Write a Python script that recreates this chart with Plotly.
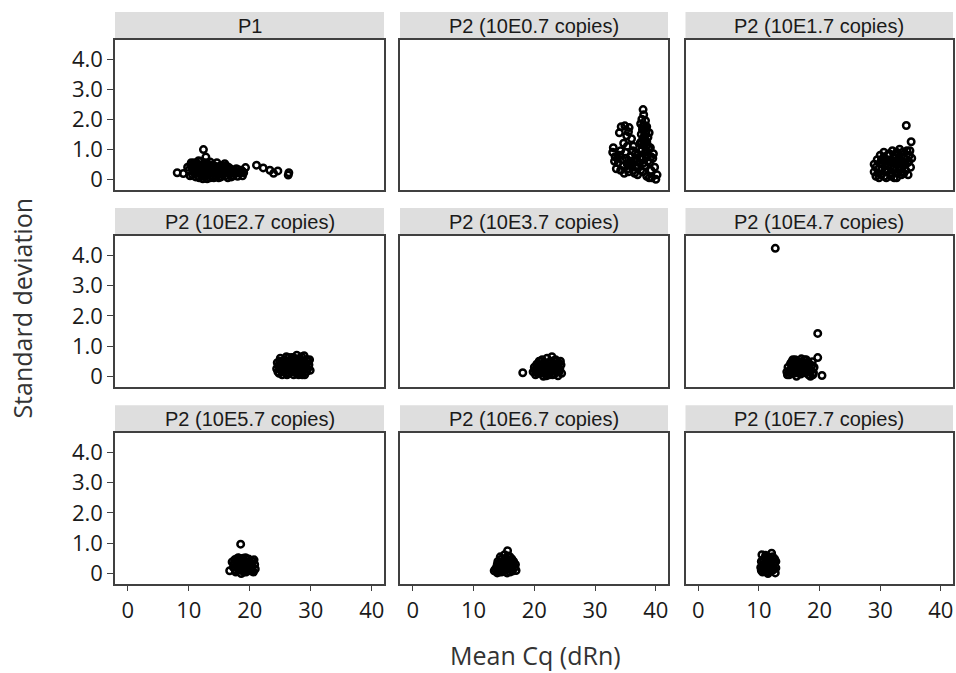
import plotly.graph_objects as go

# Facet titles, in panel order (left to right, top to bottom)
panel_titles = [
    "P1", "P2 (10E0.7 copies)", "P2 (10E1.7 copies)",
    "P2 (10E2.7 copies)", "P2 (10E3.7 copies)", "P2 (10E4.7 copies)",
    "P2 (10E5.7 copies)", "P2 (10E6.7 copies)", "P2 (10E7.7 copies)",
]

x_ticks = [0, 10, 20, 30, 40]
y_ticks = [0, 1, 2, 3, 4]
y_tick_text = ["0", "1.0", "2.0", "3.0", "4.0"]

# (mean Cq, standard deviation) per well, one list per panel
pts_p1 = [
    (8.1, 0.22), (9.1, 0.19), (12.4, 0.99), (12.8, 0.74), (19.3, 0.39), (19.0, 0.22),
    (21.1, 0.47), (22.2, 0.38), (23.3, 0.30), (23.9, 0.20), (24.6, 0.28), (26.3, 0.14),
    (26.4, 0.22), (10.0, 0.30), (10.3, 0.48), (10.6, 0.15), (10.9, 0.55), (11.0, 0.35),
    (11.3, 0.20), (11.5, 0.50), (11.7, 0.05), (11.8, 0.38), (12.0, 0.60), (12.1, 0.25),
    (12.3, 0.45), (12.5, 0.10), (12.6, 0.32), (12.8, 0.55), (13.0, 0.02), (13.1, 0.20),
    (13.3, 0.40), (13.5, 0.58), (13.6, 0.12), (13.8, 0.30), (14.0, 0.48), (14.1, 0.05),
    (14.3, 0.22), (14.5, 0.38), (14.6, 0.55), (14.8, 0.15), (15.0, 0.30), (15.2, 0.45),
    (15.3, 0.08), (15.5, 0.22), (15.7, 0.36), (15.9, 0.52), (16.0, 0.12), (16.2, 0.28),
    (16.5, 0.40), (16.7, 0.18), (17.0, 0.08), (17.2, 0.30), (17.5, 0.18), (17.8, 0.35),
    (18.0, 0.10), (18.3, 0.22), (18.6, 0.30), (18.8, 0.12), (11.2, 0.42), (12.2, 0.15),
    (13.9, 0.25), (14.9, 0.05), (16.4, 0.05), (10.7, 0.25), (12.9, 0.30), (15.6, 0.15),
    (17.6, 0.25), (9.8, 0.40), (11.9, 0.28), (13.2, 0.50), (14.4, 0.10), (15.8, 0.42),
    (16.9, 0.34), (10.2, 0.12), (10.5, 0.40), (11.1, 0.08), (11.4, 0.30), (11.6, 0.62),
    (12.0, 0.45), (12.4, 0.35), (12.7, 0.18), (13.0, 0.48), (13.4, 0.25), (13.7, 0.45),
    (14.2, 0.35), (14.7, 0.28), (15.1, 0.18), (15.4, 0.35), (16.1, 0.45), (16.6, 0.28),
    (17.3, 0.12), (18.1, 0.32), (18.9, 0.25), (10.4, 0.55), (12.3, 0.02), (13.5, 0.05),
    (14.6, 0.42),
]

pts_e07 = [
    (37.9, 2.32), (38.0, 2.15), (37.7, 2.00), (38.3, 1.95), (37.5, 1.85), (38.1, 1.80),
    (38.5, 1.75), (37.8, 1.65), (38.4, 1.60), (37.6, 1.50), (38.2, 1.45), (38.7, 1.40),
    (37.9, 1.30), (38.5, 1.25), (37.4, 1.20), (38.0, 1.12), (38.8, 1.05), (37.7, 1.00),
    (38.4, 0.95), (34.3, 1.75), (34.9, 1.78), (35.6, 1.72), (34.0, 1.55), (35.2, 1.45),
    (36.0, 1.35), (35.5, 1.58), (36.3, 1.10), (33.0, 1.05), (32.9, 0.90), (33.3, 0.75),
    (33.8, 0.55), (33.5, 0.35), (33.2, 0.60), (34.0, 0.80), (34.5, 0.65), (35.0, 0.90),
    (35.3, 0.50), (35.8, 0.75), (36.2, 0.95), (36.5, 0.60), (36.8, 0.40), (37.0, 0.80),
    (37.3, 0.55), (37.5, 0.30), (37.8, 0.70), (38.2, 0.45), (38.6, 0.80), (39.0, 0.55),
    (39.2, 0.30), (39.5, 0.70), (34.2, 0.30), (34.8, 0.20), (35.5, 0.25), (36.0, 0.45),
    (36.5, 0.20), (37.0, 0.15), (35.7, 0.55), (36.7, 0.70), (37.9, 0.25), (38.5, 0.10),
    (39.3, 0.05), (40.0, 0.00), (40.2, 0.15), (39.8, 0.40), (38.9, 0.05), (39.6, 0.85),
    (39.1, 1.05), (38.9, 1.55), (33.7, 0.70), (34.2, 0.95), (34.6, 0.45), (35.1, 0.70),
    (35.4, 0.35), (35.9, 0.60), (36.3, 0.30), (36.6, 0.85), (37.1, 0.40), (37.4, 0.70),
    (37.6, 0.95), (38.0, 0.55), (38.3, 0.90), (38.7, 0.60), (39.2, 0.75), (38.0, 1.40),
    (37.8, 1.75), (38.2, 1.20), (38.6, 1.15), (37.6, 1.25), (38.3, 1.70), (36.9, 0.60),
    (35.3, 1.10), (34.7, 1.20),
]

pts_e17 = [
    (29.0, 0.25), (29.0, 0.50), (29.3, 0.10), (29.5, 0.65), (29.8, 0.35), (30.0, 0.80),
    (30.2, 0.15), (30.4, 0.50), (30.6, 0.90), (30.8, 0.30), (31.0, 0.05), (31.0, 0.65),
    (31.3, 0.45), (31.5, 0.85), (31.6, 0.20), (31.8, 0.60), (32.0, 0.95), (32.1, 0.35),
    (32.3, 0.05), (32.5, 0.70), (32.6, 0.50), (32.8, 0.20), (33.0, 0.85), (33.1, 0.40),
    (33.3, 0.65), (33.5, 0.15), (33.7, 0.90), (33.8, 0.45), (34.0, 0.70), (34.2, 0.30),
    (34.4, 0.95), (34.5, 0.55), (34.8, 0.80), (35.0, 0.40), (35.2, 0.70), (31.2, 0.30),
    (32.4, 0.80), (33.6, 0.25), (30.5, 0.70), (31.8, 0.10), (34.3, 1.79), (35.1, 1.25),
    (33.2, 1.00), (29.8, 0.05), (34.6, 0.15), (29.3, 0.40), (29.6, 0.20), (30.0, 0.55),
    (30.3, 0.35), (30.7, 0.10), (30.9, 0.50), (31.2, 0.80), (31.4, 0.60), (31.7, 0.40),
    (32.0, 0.20), (32.2, 0.60), (32.4, 0.40), (32.7, 0.90), (32.9, 0.65), (33.2, 0.30),
    (33.4, 0.50), (33.9, 0.20), (34.1, 0.55), (34.7, 0.60), (31.0, 0.25), (32.7, 0.05),
    (33.5, 0.75), (30.2, 0.65), (34.9, 0.95),
]

pts_e27 = [
    (24.4, 0.25), (24.5, 0.45), (24.8, 0.10), (25.0, 0.60), (25.1, 0.30), (25.4, 0.50),
    (25.6, 0.15), (25.8, 0.40), (26.0, 0.65), (26.1, 0.05), (26.3, 0.28), (26.5, 0.50),
    (26.7, 0.15), (26.9, 0.62), (27.0, 0.38), (27.2, 0.05), (27.4, 0.25), (27.5, 0.55),
    (27.7, 0.70), (27.9, 0.12), (28.0, 0.40), (28.2, 0.60), (28.4, 0.25), (28.6, 0.05),
    (28.7, 0.48), (28.9, 0.68), (29.1, 0.30), (29.3, 0.15), (29.4, 0.55), (29.7, 0.38),
    (29.9, 0.20), (25.3, 0.05), (25.9, 0.22), (26.6, 0.38), (27.6, 0.42), (28.4, 0.10),
    (29.0, 0.05), (24.7, 0.35), (26.2, 0.45), (28.1, 0.22), (27.1, 0.18), (25.6, 0.32),
    (29.6, 0.50), (24.6, 0.15), (24.9, 0.50), (25.2, 0.40), (25.5, 0.25), (25.7, 0.55),
    (26.0, 0.12), (26.4, 0.62), (26.8, 0.30), (27.3, 0.48), (27.8, 0.30), (28.3, 0.50),
    (28.5, 0.35), (28.8, 0.20), (29.2, 0.45), (29.5, 0.25), (26.4, 0.10), (27.5, 0.12),
    (28.0, 0.05), (27.2, 0.62), (28.5, 0.65), (25.3, 0.18), (26.9, 0.48), (29.8, 0.55),
    (26.1, 0.35),
]

pts_e37 = [
    (19.8, 0.15), (20.0, 0.30), (20.2, 0.05), (20.4, 0.40), (20.6, 0.20), (20.8, 0.50),
    (21.0, 0.10), (21.1, 0.35), (21.3, 0.55), (21.5, 0.00), (21.6, 0.25), (21.8, 0.45),
    (22.0, 0.12), (22.1, 0.60), (22.3, 0.32), (22.5, 0.05), (22.6, 0.48), (22.9, 0.65),
    (23.0, 0.22), (23.1, 0.40), (23.3, 0.08), (23.5, 0.55), (23.6, 0.30), (23.8, 0.15),
    (24.0, 0.45), (24.2, 0.25), (24.4, 0.38), (24.5, 0.10), (20.9, 0.28), (22.8, 0.18),
    (21.9, 0.30), (23.9, 0.02), (18.1, 0.12), (20.1, 0.20), (20.5, 0.10), (20.7, 0.35),
    (21.2, 0.20), (21.4, 0.42), (21.7, 0.12), (22.2, 0.22), (22.4, 0.45), (22.7, 0.30),
    (23.2, 0.52), (23.4, 0.28), (23.7, 0.40), (24.1, 0.15), (24.3, 0.50), (21.0, 0.50),
    (22.0, 0.02), (23.0, 0.05), (20.3, 0.25),
]

pts_e47 = [
    (14.6, 0.15), (14.8, 0.30), (15.0, 0.05), (15.2, 0.42), (15.4, 0.22), (15.6, 0.55),
    (15.8, 0.10), (16.0, 0.35), (16.2, 0.00), (16.3, 0.50), (16.5, 0.20), (16.7, 0.42),
    (16.9, 0.08), (17.0, 0.58), (17.2, 0.28), (17.4, 0.45), (17.6, 0.12), (17.8, 0.55),
    (18.0, 0.30), (18.2, 0.05), (18.4, 0.40), (18.6, 0.20), (18.8, 0.48), (19.0, 0.12),
    (19.1, 0.30), (15.5, 0.35), (16.8, 0.25), (17.9, 0.18), (16.1, 0.15), (18.5, 0.00),
    (12.7, 4.23), (19.7, 1.42), (19.7, 0.62), (20.4, 0.03), (14.7, 0.05), (15.1, 0.20),
    (15.3, 0.10), (15.7, 0.25), (15.9, 0.45), (16.4, 0.30), (16.6, 0.10), (17.1, 0.15),
    (17.3, 0.38), (17.5, 0.55), (17.7, 0.25), (18.1, 0.45), (18.3, 0.15), (18.7, 0.35),
    (18.9, 0.05), (16.9, 0.48), (15.4, 0.48), (16.0, 0.55),
]

pts_e57 = [
    (17.3, 0.20), (17.5, 0.45), (17.7, 0.05), (17.9, 0.30), (18.1, 0.52), (18.2, 0.12),
    (18.4, 0.38), (18.6, 0.00), (18.7, 0.25), (18.9, 0.50), (19.1, 0.15), (19.3, 0.40),
    (19.4, 0.05), (19.6, 0.28), (19.8, 0.48), (20.0, 0.12), (20.2, 0.35), (20.4, 0.22),
    (20.6, 0.05), (20.8, 0.30), (20.7, 0.45), (19.0, 0.30), (18.0, 0.20), (19.5, 0.18),
    (16.7, 0.09), (17.1, 0.38), (18.5, 0.97), (17.4, 0.32), (17.6, 0.12), (17.8, 0.48),
    (18.0, 0.40), (18.3, 0.28), (18.5, 0.15), (18.8, 0.40), (19.0, 0.05), (19.2, 0.25),
    (19.5, 0.48), (19.7, 0.10), (19.9, 0.35), (20.1, 0.25), (20.3, 0.08), (20.5, 0.40),
    (20.9, 0.15), (18.2, 0.50), (19.3, 0.52),
]

pts_e67 = [
    (13.4, 0.09), (13.8, 0.20), (14.0, 0.40), (14.2, 0.05), (14.4, 0.55), (14.5, 0.28),
    (14.8, 0.12), (15.0, 0.45), (15.1, 0.62), (15.3, 0.25), (15.5, 0.02), (15.6, 0.75),
    (15.7, 0.40), (15.9, 0.15), (16.0, 0.55), (16.2, 0.30), (16.4, 0.08), (16.6, 0.40),
    (16.8, 0.20), (17.0, 0.10), (15.2, 0.10), (14.7, 0.35), (16.1, 0.45), (13.9, 0.02),
    (13.6, 0.15), (13.9, 0.30), (14.1, 0.12), (14.3, 0.35), (14.6, 0.05), (14.9, 0.25),
    (15.1, 0.38), (15.4, 0.48), (15.5, 0.18), (15.8, 0.30), (16.0, 0.05), (16.3, 0.18),
    (16.5, 0.28), (16.9, 0.30), (15.7, 0.58), (14.6, 0.48), (16.3, 0.48),
]

pts_e77 = [
    (10.3, 0.20), (10.4, 0.40), (10.5, 0.62), (10.6, 0.05), (10.8, 0.30), (11.0, 0.50),
    (11.1, 0.15), (11.3, 0.35), (11.5, 0.00), (11.6, 0.55), (11.8, 0.25), (12.0, 0.42),
    (12.1, 0.67), (12.2, 0.10), (12.4, 0.30), (12.6, 0.48), (12.8, 0.18), (12.7, 0.02),
    (11.4, 0.22), (10.9, 0.10), (10.4, 0.10), (10.7, 0.45), (10.8, 0.15), (11.0, 0.30),
    (11.2, 0.45), (11.3, 0.05), (11.5, 0.35), (11.7, 0.12), (11.9, 0.50), (12.0, 0.25),
    (12.3, 0.55), (12.5, 0.15), (12.6, 0.35), (12.8, 0.40), (11.1, 0.60), (10.6, 0.28),
]

panel_points = [pts_p1, pts_e07, pts_e17, pts_e27, pts_e37,
                pts_e47, pts_e57, pts_e67, pts_e77]

W, H = 956, 673
col_px = [(115, 384), (400, 668), (685.5, 953)]
row_px = [(40, 191), (237, 389), (435, 587)]
strip_h = 28
border = "#404040"
tick_font = dict(family="Open Sans, Noto Sans, sans-serif", size=22, color="#1a1a1a")
title_font = dict(family="Open Sans, Noto Sans, sans-serif", size=25, color="#333333")

fig = go.Figure()
shapes, annotations = [], []
layout = {}

for i, pts in enumerate(panel_points):
    cq = [p[0] for p in pts]
    sd = [p[1] for p in pts]
    r, c = divmod(i, 3)
    n = i + 1
    xname = "x" if n == 1 else f"x{n}"
    yname = "y" if n == 1 else f"y{n}"
    fig.add_trace(go.Scatter(
        x=cq, y=sd, mode="markers", xaxis=xname, yaxis=yname, showlegend=False,
        marker=dict(symbol="circle-open", size=6.5, color="black",
                    line=dict(width=2.5, color="black")),
        hoverinfo="x+y",
    ))
    x0, x1 = col_px[c]
    y0, y1 = row_px[r]
    layout["xaxis" if n == 1 else f"xaxis{n}"] = dict(
        domain=[x0 / W, x1 / W], anchor=yname, range=[-2.1, 42.0],
        showgrid=False, zeroline=False, showline=True, mirror=True,
        linecolor=border, linewidth=1.5,
        tickvals=x_ticks, showticklabels=(r == 2),
        ticks="outside" if r == 2 else "", ticklen=5, tickwidth=1.2, tickcolor=border,
        tickfont=tick_font, fixedrange=True,
    )
    layout["yaxis" if n == 1 else f"yaxis{n}"] = dict(
        domain=[1 - y1 / H, 1 - y0 / H], anchor=xname, range=[-0.36, 4.64],
        showgrid=False, zeroline=False, showline=True, mirror=True,
        linecolor=border, linewidth=1.5,
        tickvals=y_ticks, ticktext=y_tick_text, showticklabels=(c == 0),
        ticks="outside" if c == 0 else "", ticklen=6, tickwidth=1.2, tickcolor=border,
        tickfont=tick_font, fixedrange=True,
    )
    # grey facet strip above each panel
    shapes.append(dict(
        type="rect", xref="paper", yref="paper", layer="below",
        x0=x0 / W, x1=x1 / W, y0=1 - y0 / H, y1=1 - (y0 - strip_h) / H,
        fillcolor="#dedede", line=dict(width=0),
    ))
    annotations.append(dict(
        xref="paper", yref="paper", x=(x0 + x1) / 2 / W, y=1 - (y0 - strip_h / 2) / H,
        text=panel_titles[i], showarrow=False, xanchor="center", yanchor="middle",
        font=dict(family="Liberation Sans, Arial, sans-serif", size=20, color="#1a1a1a"),
    ))

annotations.append(dict(
    xref="paper", yref="paper", x=535 / W, y=1 - 658 / H, text="Mean Cq (dRn)",
    showarrow=False, xanchor="center", yanchor="middle", font=title_font,
))
annotations.append(dict(
    xref="paper", yref="paper", x=22 / W, y=1 - 310 / H, text="Standard deviation",
    showarrow=False, xanchor="center", yanchor="middle", textangle=-90, font=title_font,
))

fig.update_layout(
    width=W, height=H, margin=dict(l=0, r=0, t=0, b=0),
    paper_bgcolor="white", plot_bgcolor="white",
    shapes=shapes, annotations=annotations, **layout,
)

fig.write_html("out.html")
